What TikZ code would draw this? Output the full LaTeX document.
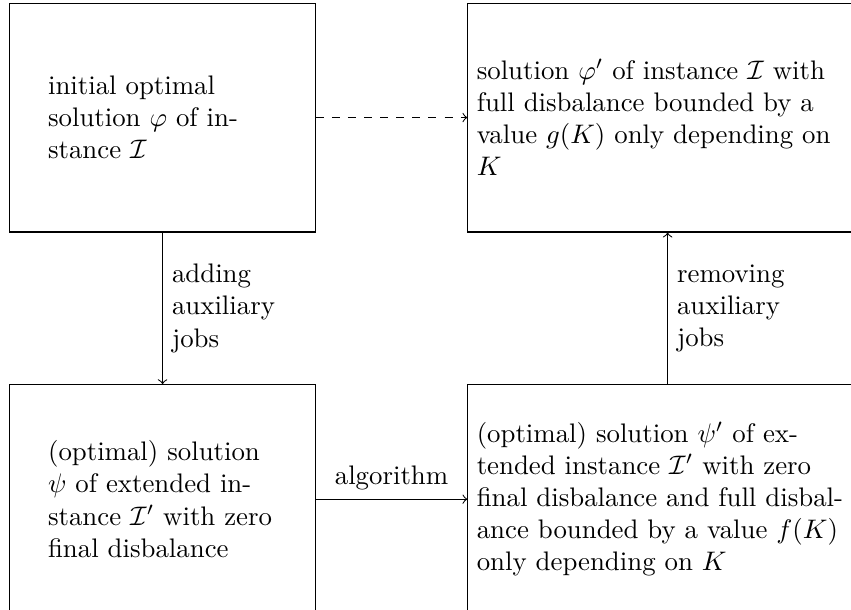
\documentclass[tikz,border=0pt]{standalone}
\usepackage{amsmath}

\tikzstyle{smallbox} = [draw,text width=3cm,minimum width=4cm,minimum height=3cm]
\tikzstyle{widebox}  = [draw,text width=5cm,minimum height=3cm]
\tikzstyle{edgetext} = [text width=1.5cm,align=left]

\begin{document}
\begin{tikzpicture}
  \useasboundingbox (-2.13,1.54) rectangle (9.02,-6.45);
  \clip (-2.13,1.54) rectangle (9.02,-6.45);

  \node[smallbox] at (0,0) (init)      {initial optimal solution $\varphi$ of instance $\mathcal{I}$};
  \node[widebox] at (6.617,0) (bounded) {solution $\varphi'$ of instance $\mathcal{I}$ with full disbalance bounded by a value $g(K)$ only depending on $K$};
  \node[smallbox] at (0,-5) (ext)      {(optimal) solution $\psi$ of extended instance $\mathcal{I}'$ with zero final disbalance};
  \node[widebox] at (6.617,-5) (alg)   {(optimal) solution $\psi'$ of extended instance $\mathcal{I}'$ with zero final disbalance and full disbalance bounded by a value $f(K)$ only depending on $K$};

  \draw[dashed,->] (init.east) -- (bounded.west);
  \draw[->] (init.south) -- node[right,edgetext] {adding auxiliary jobs} (ext.north);
  \draw[->] (ext.east) -- node[above] {algorithm} (alg.west);
  \draw[->] (alg.north) -- node[right,edgetext] {removing auxiliary jobs} (bounded.south);
\end{tikzpicture}
\end{document}
